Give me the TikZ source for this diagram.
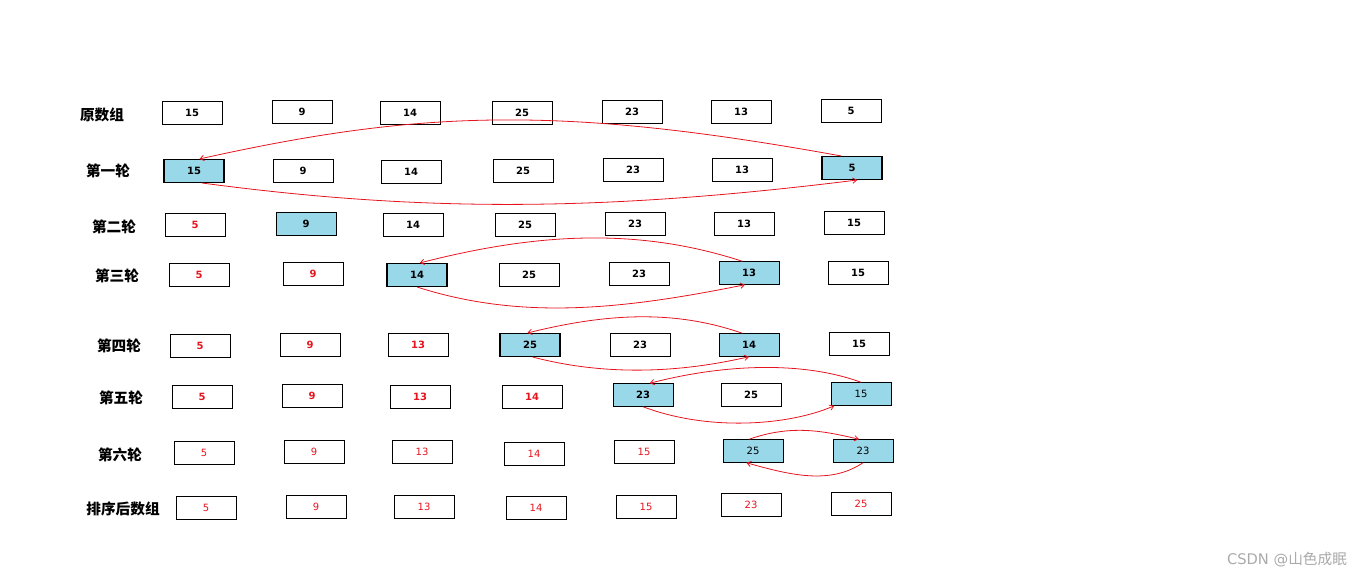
\documentclass[tikz,border=0pt]{standalone}
\usepackage{fontspec}
\usetikzlibrary{arrows.meta}
\setmainfont{DejaVu Sans}
\newfontfamily\cjk{Noto Sans CJK SC}
\begin{document}
\begin{tikzpicture}[x=0.75pt,y=-0.75pt,
  cell/.style={draw,line width=0.6pt,minimum width=45pt,minimum height=17pt,inner sep=0pt,font=\fontsize{7.5}{8}\selectfont\bfseries},
  blue/.style={fill={rgb,255:red,152;green,216;blue,233}},
  rd/.style={text={rgb,255:red,230;green,20;blue,30}},
  nb/.style={font=\fontsize{7.5}{8}\selectfont},
  lab/.style={font=\cjk\fontsize{11}{12}\selectfont\bfseries},
  sw/.style={draw={rgb,255:red,230;green,20;blue,30},line width=0.6pt,-{Straight Barb[length=3pt,width=4pt]}}]
\useasboundingbox (0,0) rectangle (1360,578);
% row labels
\node[lab] (l0) at (102,115) {原数组};
\node[lab] (l1) at (108,171) {第一轮};
\node[lab] (l2) at (114,227) {第二轮};
\node[lab] (l3) at (117,276) {第三轮};
\node[lab] (l4) at (119,346) {第四轮};
\node[lab] (l5) at (121,398) {第五轮};
\node[lab] (l6) at (120,455) {第六轮};
\node[lab] (l7) at (123,509) {排序后数组};
% row 0
\foreach \x/\y/\t [count=\i] in {192/113/15,302/112/9,410/113/14,522/113/25,632/112/23,741/112/13,851/111/5}
  \node[cell] (r0c\i) at (\x,\y) {\t};
% row 1
\node[cell,blue,line width=1pt] (r1c1) at (194,171) {15};
\foreach \x/\y/\t [count=\i from 2] in {303/171/9,411/172/14,523/171/25,633/170/23,742/170/13}
  \node[cell] (r1c\i) at (\x,\y) {\t};
\node[cell,blue,line width=1pt] (r1c7) at (852,168) {5};
% row 2
\node[cell,rd] (r2c1) at (195,225) {5};
\node[cell,blue] (r2c2) at (306,224) {9};
\foreach \x/\y/\t [count=\i from 3] in {413/225/14,525/225/25,635/224/23,744/224/13,854/223/15}
  \node[cell] (r2c\i) at (\x,\y) {\t};
% row 3
\node[cell,rd] (r3c1) at (199,275) {5};
\node[cell,rd] (r3c2) at (313,274) {9};
\node[cell,blue,line width=1pt] (r3c3) at (417,275) {14};
\node[cell] (r3c4) at (529,275) {25};
\node[cell] (r3c5) at (639,274) {23};
\node[cell,blue] (r3c6) at (749,273) {13};
\node[cell] (r3c7) at (858,273) {15};
% row 4
\node[cell,rd] (r4c1) at (200,346) {5};
\node[cell,rd] (r4c2) at (310,345) {9};
\node[cell,rd] (r4c3) at (418,345) {13};
\node[cell,blue,line width=1pt] (r4c4) at (530,345) {25};
\node[cell] (r4c5) at (640,345) {23};
\node[cell,blue] (r4c6) at (749,345) {14};
\node[cell] (r4c7) at (859,344) {15};
% row 5
\node[cell,rd] (r5c1) at (202,397) {5};
\node[cell,rd] (r5c2) at (312,396) {9};
\node[cell,rd] (r5c3) at (420,397) {13};
\node[cell,rd] (r5c4) at (532,397) {14};
\node[cell,blue] (r5c5) at (643,395) {23};
\node[cell] (r5c6) at (751,395) {25};
\node[cell,blue,nb] (r5c7) at (861,394) {15};
% row 6
\foreach \x/\y/\t [count=\i] in {204/453/5,314/452/9,422/452/13,534/454/14,644/452/15}
  \node[cell,nb,rd] (r6c\i) at (\x,\y) {\t};
\node[cell,nb,blue] (r6c6) at (753,451) {25};
\node[cell,nb,blue] (r6c7) at (863,451) {23};
% row 7
\foreach \x/\y/\t [count=\i] in {206/508/5,316/507/9,424/507/13,536/508/14,646/507/15,751/505/23,861/504/25}
  \node[cell,nb,rd] (r7c\i) at (\x,\y) {\t};
% swaps
\draw[sw] ([xshift=-8pt]r1c7.north) .. controls (560,105) and (420,110) .. ([xshift=4pt]r1c1.north);
\draw[sw] ([xshift=6pt]r1c1.south) .. controls (420,212) and (600,212) .. ([xshift=4pt]r1c7.south);
\draw[sw] ([xshift=-5pt]r3c6.north) .. controls (640,228) and (540,232) .. ([xshift=2pt]r3c3.north);
\draw[sw] (r3c3.south) .. controls (520,320) and (620,310) .. ([xshift=-3pt]r3c6.south);
\draw[sw] ([xshift=-5pt]r4c6.north) .. controls (670,308) and (600,315) .. ([xshift=-2pt]r4c4.north);
\draw[sw] ([xshift=2pt]r4c4.south) .. controls (620,380) and (700,368) .. ([xshift=0pt]r4c6.south);
\draw[sw] (r5c7.north) .. controls (800,360) and (720,365) .. ([xshift=5pt]r5c5.north);
\draw[sw] (r5c5.south) .. controls (710,432) and (790,425) .. ([xshift=-20pt]r5c7.south);
\draw[sw] ([xshift=-3pt]r6c6.north) .. controls (790,425) and (820,430) .. ([xshift=-3pt]r6c7.north);
\draw[sw] (r6c7.south) .. controls (830,485) and (790,475) .. ([xshift=-5pt]r6c6.south);
\node[text={rgb,255:red,170;green,170;blue,170},font=\fontsize{11}{12}\selectfont] (wm) at (1287,560) {CSDN @{\cjk 山色成眠}};
\end{tikzpicture}
\end{document}
